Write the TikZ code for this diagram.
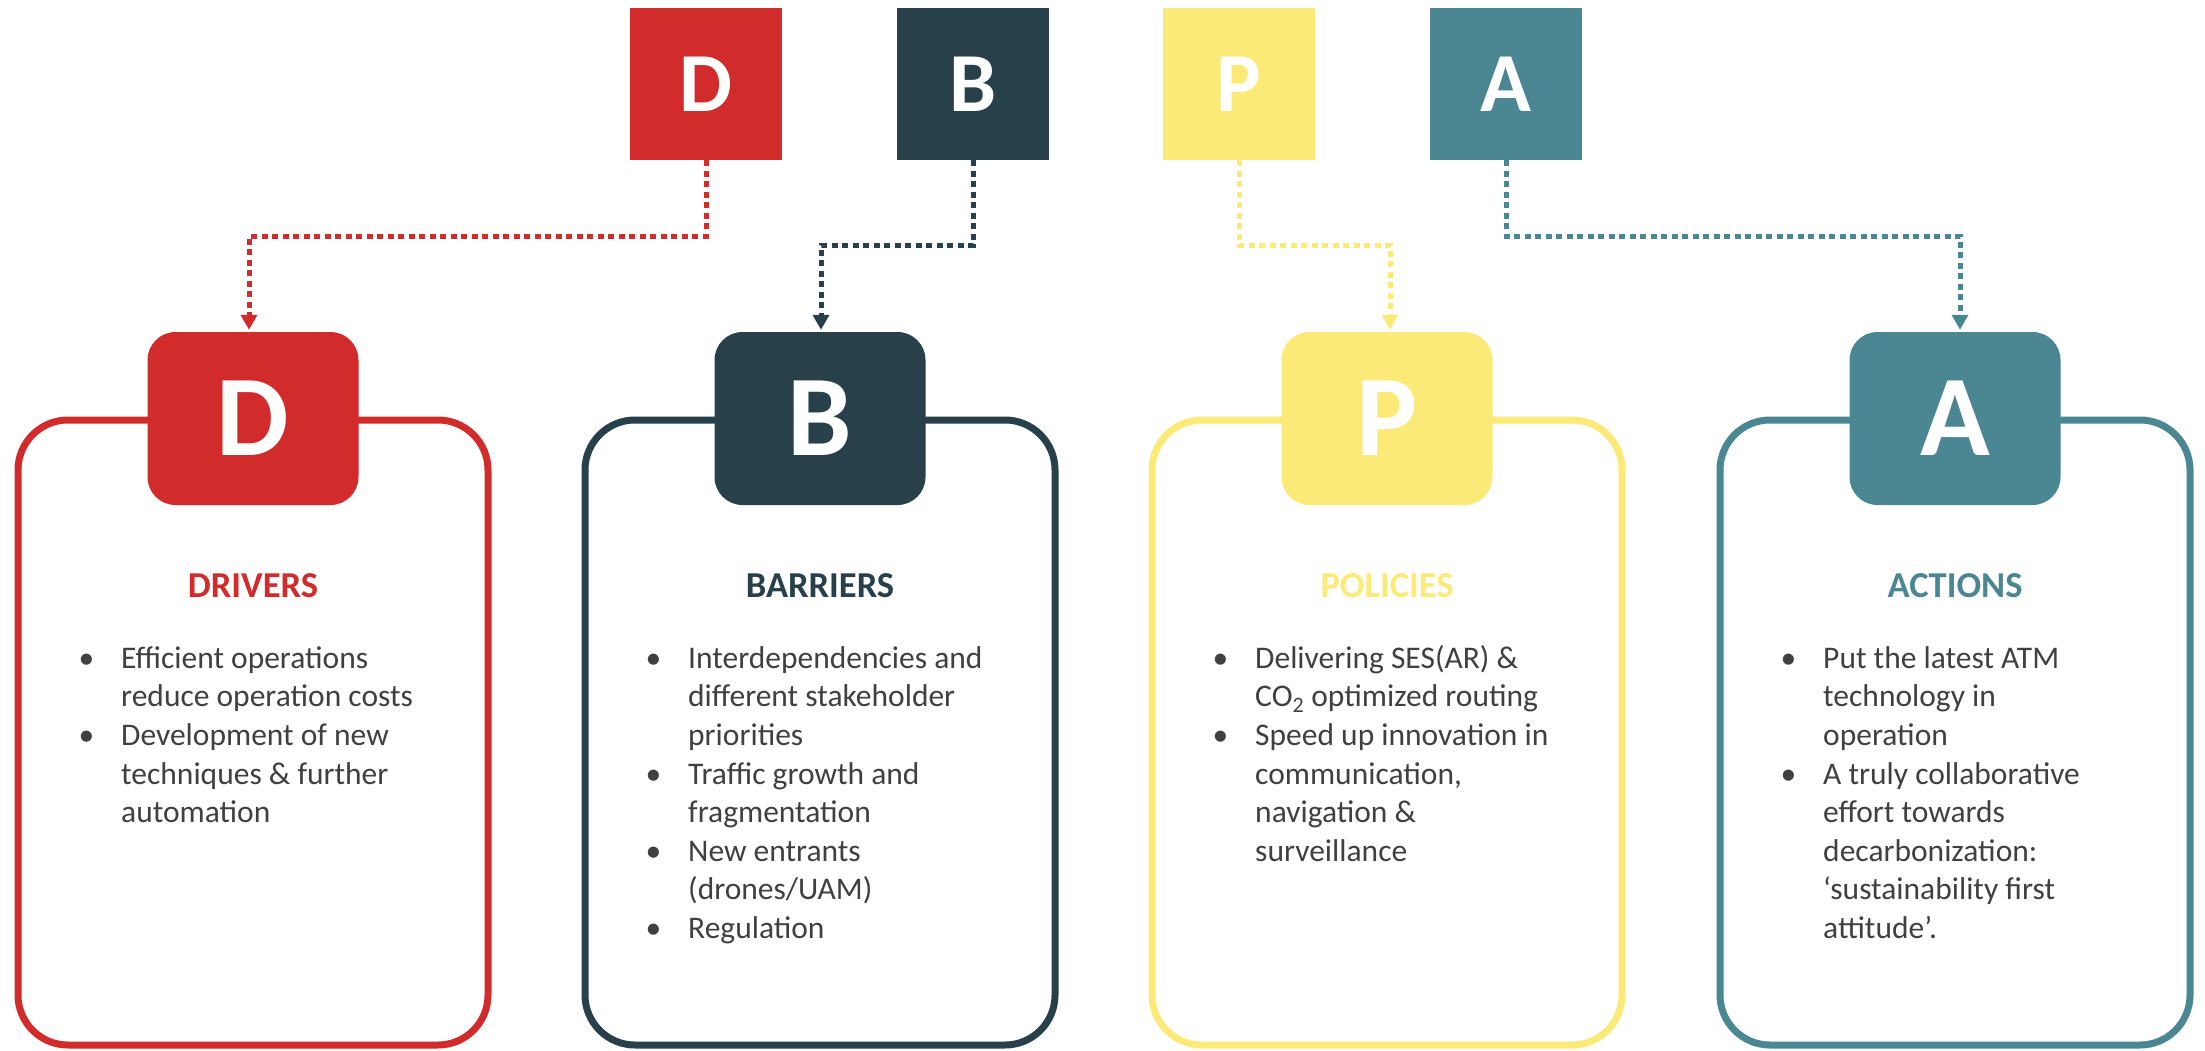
\documentclass[tikz,border=0pt]{standalone}
\usepackage{fontspec}
\setmainfont{Carlito}
\usetikzlibrary{arrows.meta}

\definecolor{cRed}{RGB}{210,43,43}
\definecolor{cSlate}{RGB}{39,64,74}
\definecolor{cYel}{RGB}{252,234,120}
\definecolor{cTeal}{RGB}{75,134,147}
\definecolor{cText}{RGB}{64,64,64}

% bullet hung to the left of the text column
\newcommand\bitem{\llap{•\hspace{27pt}}}

\tikzset{
  sq/.style={minimum width=152pt, minimum height=152pt, inner sep=0pt,
    text=white, font=\fontsize{84}{84}\selectfont\bfseries},
  badge/.style={rounded corners=28pt, minimum width=211pt, minimum height=173pt,
    inner sep=0pt, text=white, font=\fontsize{115}{115}\selectfont\bfseries},
  frame/.style={draw, line width=7pt, rounded corners=50pt,
    minimum width=470pt, minimum height=625pt, inner sep=0pt},
  conn/.style={line width=5pt, dash pattern=on 6pt off 4.5pt,
    -{Triangle[length=15pt,width=16pt]}, shorten >=2pt},
  ttl/.style={anchor=base, inner sep=0pt, font=\fontsize{36.5}{40}\selectfont\bfseries},
  body/.style={anchor=north west, inner sep=0pt, align=left, text=cText,
    font=\fontsize{31.5}{38.6}\selectfont}
}

\begin{document}
\begin{tikzpicture}[x=1pt,y=-1pt]
\useasboundingbox (0,0) rectangle (2205,1050);
\fill[white] (0,0) rectangle (2205,1050);

% letter tiles along the top
\node[sq, fill=cRed]   (sqD) at (706,84)  {D};
\node[sq, fill=cSlate] (sqB) at (973,84)  {B};
\node[sq, fill=cYel]   (sqP) at (1239,84) {P};
\node[sq, fill=cTeal]  (sqA) at (1506,84) {A};

% outlined panels
\node[frame, draw=cRed]   (frD) at (253,732.5)  {};
\node[frame, draw=cSlate] (frB) at (820,732.5)  {};
\node[frame, draw=cYel]   (frP) at (1387,732.5) {};
\node[frame, draw=cTeal]  (frA) at (1955,732.5) {};

% badges sitting on the panel tops
\node[badge, fill=cRed]   (bdgD) at (253,418.5)  {D};
\node[badge, fill=cSlate] (bdgB) at (820,418.5)  {B};
\node[badge, fill=cYel]   (bdgP) at (1387,418.5) {P};
\node[badge, fill=cTeal]  (bdgA) at (1955,418.5) {A};

% dotted links from tiles to badges
\draw[conn, cRed]   (sqD.south) -- ++(0,76) -| ([xshift=-4pt]bdgD.north);
\draw[conn, cSlate] (sqB.south) -- ++(0,85) -| ([xshift=1pt]bdgB.north);
\draw[conn, cYel]   (sqP.south) -- ++(0,85) -| ([xshift=3pt]bdgP.north);
\draw[conn, cTeal]  (sqA.south) -- ++(0,76) -| ([xshift=5pt]bdgA.north);

% headings
\node[ttl, text=cRed]   (tD) at (253,597)  {DRIVERS};
\node[ttl, text=cSlate] (tB) at (820,597)  {BARRIERS};
\node[ttl, text=cYel]   (tP) at (1387,597) {POLICIES};
\node[ttl, text=cTeal]  (tA) at (1955,597) {ACTIONS};

% bullet lists
\node[body] (lD) at (121,641) {\strut\bitem Efficient operations\\
reduce operation costs\\
\bitem Development of new\\
techniques \& further\\
automation};

\node[body] (lB) at (688,641) {\strut\bitem Interdependencies and\\
different stakeholder\\
priorities\\
\bitem Traffic growth and\\
fragmentation\\
\bitem New entrants\\
(drones/UAM)\\
\bitem Regulation};

\node[body] (lP) at (1255,641) {\strut\bitem Delivering SES(AR) \&\\
CO\textsubscript{2} optimized routing\\
\bitem Speed up innovation in\\
communication,\\
navigation \&\\
surveillance};

\node[body] (lA) at (1823,641) {\strut\bitem Put the latest ATM\\
technology in\\
operation\\
\bitem A truly collaborative\\
effort towards\\
decarbonization:\\
‘sustainability first\\
attitude’.};
\end{tikzpicture}
\end{document}
